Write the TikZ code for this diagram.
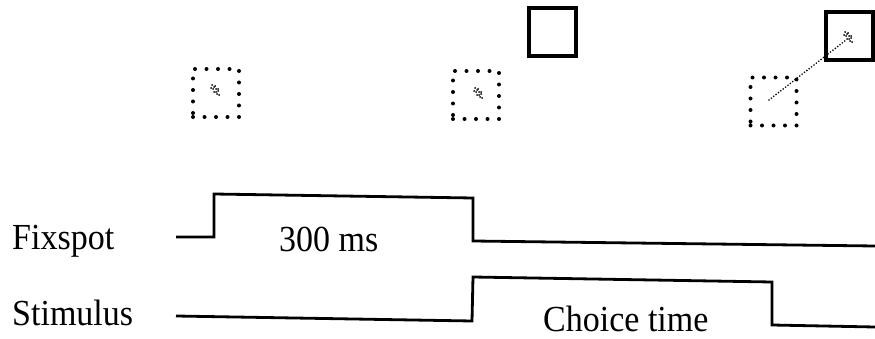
\documentclass[tikz,border=0pt]{standalone}
\usepackage{fontspec}
\setmainfont{Liberation Serif}
\newcommand{\tallish}[1]{\scalebox{1}[1.08]{#1}}
\begin{document}
\begin{tikzpicture}[x=1pt,y=-1pt,
  lbl/.style={anchor=base west,inner sep=0pt,font=\fontsize{34}{40}\selectfont},
  target/.style={draw,line width=4pt,minimum width=47pt,minimum height=48pt,inner sep=0pt},
  fixbox/.style={draw,line width=4pt,line cap=round,dash pattern=on 0pt off 11.5pt,
    minimum width=46pt,minimum height=48pt,inner sep=0pt},
  wave/.style={line width=2.8pt,line join=miter},
  gaze/.style={line width=1.8pt,line cap=round,dash pattern=on 0pt off 3pt},
  grain/.pic={
    \foreach \dx/\dy in {-3/-5,0/-4,-2/-1,1/-1,3/1,-1/2,2/4,4/5,-4/-2,1/2,-1/-3,3/-1}
      \fill (\dx,\dy) circle (1pt);
  }]
\useasboundingbox (0,0) rectangle (875,339);

% fixation windows (dotted) and choice targets (solid)
\node[fixbox] (fw1) at (216,93) {};
\node[fixbox] (fw2) at (476,95) {};
\node[fixbox] (fw3) at (773.5,101.5) {};
\node[target] (tg2) at (552.5,32) {};
\node[target] (tg3) at (849,36.5) {};

% eye position marks
\pic at (215,90) {grain};
\pic at (478,93) {grain};
\pic at (848,37) {grain};

% saccade from fixation window to target
\coordinate (s0) at (769,100);
\coordinate (s1) at (846,40);
\draw[gaze] (s0) -- (s1);

% timing traces
\draw[wave] (176,237) -- (214,237) -- (214,194) -- (473,198) -- (473,241) -- (875,246);
\draw[wave] (176,316) -- (472,321) -- (473,277) -- (772,282) -- (772,325) -- (875,327);

% labels
\node[lbl] (fix) at (12,249) {\tallish{Fixspot}};
\node[lbl] (stim) at (12,325) {\tallish{Stimulus}};
\node[lbl] (dur) at (279,251) {\tallish{300 ms}};
\node[lbl] (ct) at (543,331) {\tallish{Choice time}};
\end{tikzpicture}
\end{document}
